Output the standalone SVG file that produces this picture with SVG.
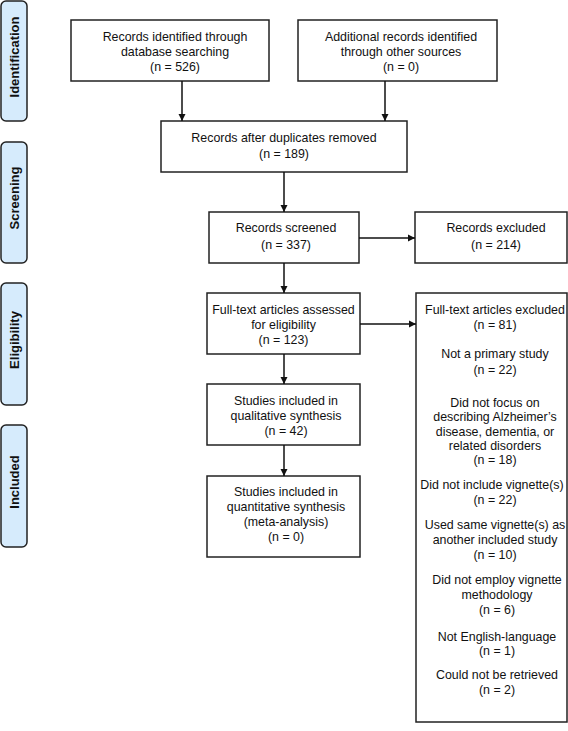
<svg xmlns="http://www.w3.org/2000/svg" width="568" height="731" viewBox="0 0 568 731">
<style>
.box{fill:#fff;stroke:#222;stroke-width:1.5}
.side{fill:#d6ebfc;stroke:#222;stroke-width:1.5}
.t{font-family:"Liberation Sans",Arial,sans-serif;font-size:12.4px;fill:#111;text-anchor:middle}
.s{font-family:"Liberation Sans",Arial,sans-serif;font-size:13px;font-weight:bold;fill:#111;text-anchor:middle}
.c{stroke:#111;stroke-width:1.5;fill:none;marker-end:url(#ah)}
</style>
<defs>
<marker id="ah" markerWidth="8" markerHeight="8" refX="7" refY="4" orient="auto" markerUnits="userSpaceOnUse">
<path d="M0,0.5 L7,4 L0,7.5 Z" fill="#111"/>
</marker>
</defs>
<rect width="568" height="731" fill="#fff"/>
<g id="stage-identification">
<rect class="side" x="1" y="1" width="26" height="120" rx="5"/>
<text class="s" transform="translate(19,57) rotate(-90)">Identification</text>
</g>
<g id="stage-screening">
<rect class="side" x="1" y="142" width="26" height="121" rx="5"/>
<text class="s" transform="translate(19,198) rotate(-90)">Screening</text>
</g>
<g id="stage-eligibility">
<rect class="side" x="1" y="283" width="26" height="122" rx="5"/>
<text class="s" transform="translate(19,340) rotate(-90)">Eligibility</text>
</g>
<g id="stage-included">
<rect class="side" x="1" y="425" width="26" height="122" rx="5"/>
<text class="s" transform="translate(19,482) rotate(-90)">Included</text>
</g>
<g id="n-db">
<rect class="box" x="71" y="20" width="198" height="61"/>
<text class="t" x="175" y="41">Records identified through</text>
<text class="t" x="175" y="56">database searching</text>
<text class="t" x="175" y="71">(n = 526)</text>
</g>
<g id="n-other">
<rect class="box" x="298" y="20" width="199" height="61"/>
<text class="t" x="401" y="41">Additional records identified</text>
<text class="t" x="401" y="56">through other sources</text>
<text class="t" x="401" y="71">(n = 0)</text>
</g>
<g id="n-dup">
<rect class="box" x="161" y="121" width="246" height="51"/>
<text class="t" x="284" y="142">Records after duplicates removed</text>
<text class="t" x="284" y="158">(n = 189)</text>
</g>
<g id="n-screened">
<rect class="box" x="209" y="212" width="150" height="51"/>
<text class="t" x="286" y="232">Records screened</text>
<text class="t" x="286" y="249">(n = 337)</text>
</g>
<g id="n-excluded">
<rect class="box" x="415" y="212" width="152" height="51"/>
<text class="t" x="496" y="232">Records excluded</text>
<text class="t" x="496" y="249">(n = 214)</text>
</g>
<g id="n-fulltext">
<rect class="box" x="207" y="293" width="153" height="61"/>
<text class="t" x="283.5" y="314">Full-text articles assessed</text>
<text class="t" x="283.5" y="329">for eligibility</text>
<text class="t" x="283.5" y="344">(n = 123)</text>
</g>
<g id="n-ft-excluded">
<rect class="box" x="416" y="293" width="151" height="429"/>
<text class="t" x="495" y="314">Full-text articles excluded</text>
<text class="t" x="495" y="329">(n = 81)</text>
<text class="t" x="495" y="358">Not a primary study</text>
<text class="t" x="495" y="374">(n = 22)</text>
<text class="t" x="495" y="407">Did not focus on</text>
<text class="t" x="495" y="421">describing Alzheimer’s</text>
<text class="t" x="495" y="436">disease, dementia, or</text>
<text class="t" x="495" y="450">related disorders</text>
<text class="t" x="495" y="464">(n = 18)</text>
<text class="t" x="492" y="489">Did not include vignette(s)</text>
<text class="t" x="495" y="504">(n = 22)</text>
<text class="t" x="495" y="529">Used same vignette(s) as</text>
<text class="t" x="495" y="544">another included study</text>
<text class="t" x="495" y="559">(n = 10)</text>
<text class="t" x="497" y="584">Did not employ vignette</text>
<text class="t" x="497" y="599">methodology</text>
<text class="t" x="497" y="614">(n = 6)</text>
<text class="t" x="497" y="641">Not English-language</text>
<text class="t" x="497" y="655">(n = 1)</text>
<text class="t" x="497" y="679">Could not be retrieved</text>
<text class="t" x="497" y="694">(n = 2)</text>
</g>
<g id="n-qual">
<rect class="box" x="207" y="384" width="153" height="61"/>
<text class="t" x="286" y="405">Studies included in</text>
<text class="t" x="286" y="420">qualitative synthesis</text>
<text class="t" x="286" y="435">(n = 42)</text>
</g>
<g id="n-quant">
<rect class="box" x="207" y="476" width="153" height="81"/>
<text class="t" x="286" y="496">Studies included in</text>
<text class="t" x="286" y="511">quantitative synthesis</text>
<text class="t" x="286" y="526">(meta-analysis)</text>
<text class="t" x="286" y="541">(n = 0)</text>
</g>
<g id="connectors">
<line class="c" x1="182" y1="81" x2="182" y2="121"/>
<line class="c" x1="385" y1="81" x2="385" y2="121"/>
<line class="c" x1="284" y1="172" x2="284" y2="212"/>
<line class="c" x1="359" y1="238" x2="415" y2="238"/>
<line class="c" x1="284" y1="263" x2="284" y2="293"/>
<line class="c" x1="360" y1="324" x2="416" y2="324"/>
<line class="c" x1="284" y1="354" x2="284" y2="384"/>
<line class="c" x1="284" y1="445" x2="284" y2="476"/>
</g>
</svg>
